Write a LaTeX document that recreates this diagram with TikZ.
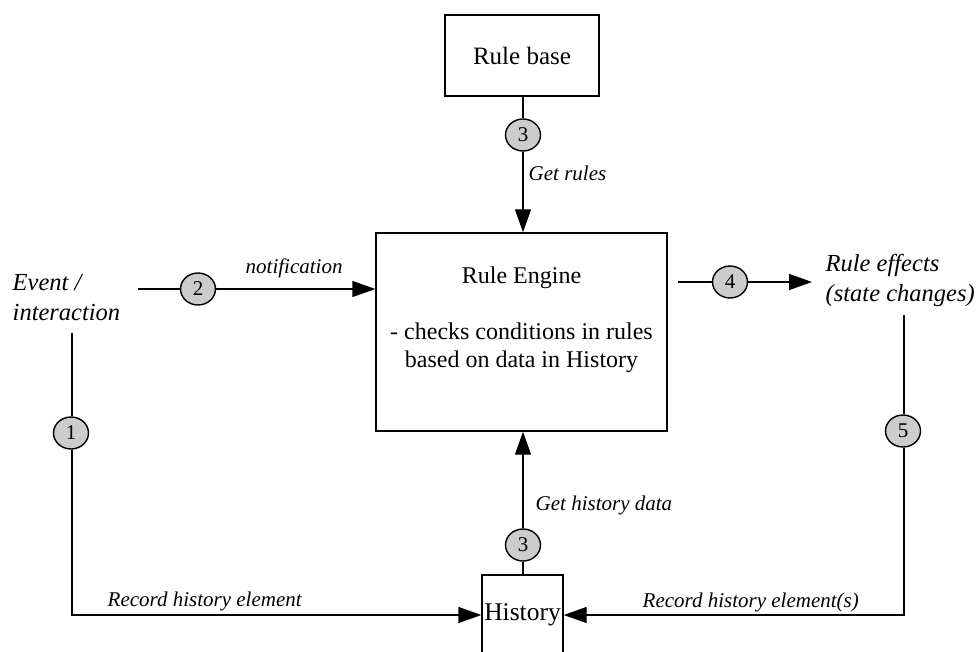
\documentclass[tikz,border=0pt]{standalone}
\usepackage{fontspec}
\setmainfont{Liberation Serif}
\usetikzlibrary{arrows.meta,shapes.geometric}
\begin{document}
\begin{tikzpicture}[x=1pt,y=-1pt,
  line width=1.4pt,
  box/.style={draw,rectangle,inner sep=0pt},
  num/.style={draw,ellipse,fill=black!20,minimum width=35pt,minimum height=32pt,inner sep=0pt,font=\fontsize{21}{21}\selectfont},
  lbl/.style={font=\fontsize{21}{24}\itshape,inner sep=0pt},
  big/.style={font=\fontsize{24.5}{30}\itshape,inner sep=0pt,align=left},
  arr/.style={-{Triangle[length=23pt,width=16pt]}}]
\useasboundingbox (0,0) rectangle (976,652);
% boxes
\node[box,minimum width=154pt,minimum height=81pt,font=\fontsize{25}{28}\selectfont] (rb) at (522,55.5) {Rule base};
\node[box,minimum width=291pt,minimum height=198pt] (eng) at (521.5,332) {};
\node[anchor=north,align=center,inner sep=0pt,font=\fontsize{24}{28}\selectfont] (engtxt) at (521.5,266) {Rule Engine\\[28pt]- checks conditions in rules\\based on data in History};
\node[box,minimum width=81pt,minimum height=80pt,font=\fontsize{25.5}{28}\selectfont] (hist) at (522.5,615) {History};
% free texts
\node[big,anchor=west] (ev) at (12,298) {Event /\\interaction};
\node[big,anchor=west] (eff) at (825,280) {Rule effects\\(state changes)};
% numbered markers
\node[num] (c3a) at (523,135) {3};
\node[num] (c2) at (198,289) {2};
\node[num] (c4) at (730,282) {4};
\node[num] (c1) at (71,433) {1};
\node[num] (c5) at (903,431) {5};
\node[num] (c3b) at (523,545) {3};
% free ends
\coordinate (s2) at (138,289);
\coordinate (s4) at (678,282);
\coordinate (e4) at (812,282);
\coordinate (s1) at (72,333);
\coordinate (k1) at (72,615);
\coordinate (s5) at (904,315);
\coordinate (k5) at (904,615);
% connectors
\draw (rb.south -| c3a) -- (c3a);
\draw[arr] (c3a) -- (eng.north -| c3a);
\draw (s2) -- (c2);
\draw[arr] (c2) -- (eng.west |- c2);
\draw (s4) -- (c4);
\draw[arr] (c4) -- (e4);
\draw (s1) -- (s1 |- c1.north);
\draw[arr] (s1 |- c1.south) -- (k1) -- (hist.west |- k1);
\draw (s5) -- (s5 |- c5.north);
\draw[arr] (s5 |- c5.south) -- (k5) -- (hist.east |- k5);
\draw (hist.north -| c3b) -- (c3b);
\draw[arr] (c3b) -- (eng.south -| c3b);
% labels
\node[lbl,anchor=west] (l1) at (528,173) {Get rules};
\node[lbl,anchor=west] (l2) at (245,268) {notification};
\node[lbl,anchor=west] (l3) at (535,505) {Get history data};
\node[lbl,anchor=west] (l4) at (107,601) {Record history element};
\node[lbl,anchor=west] (l5) at (642,602) {Record history element(s)};
\end{tikzpicture}
\end{document}
